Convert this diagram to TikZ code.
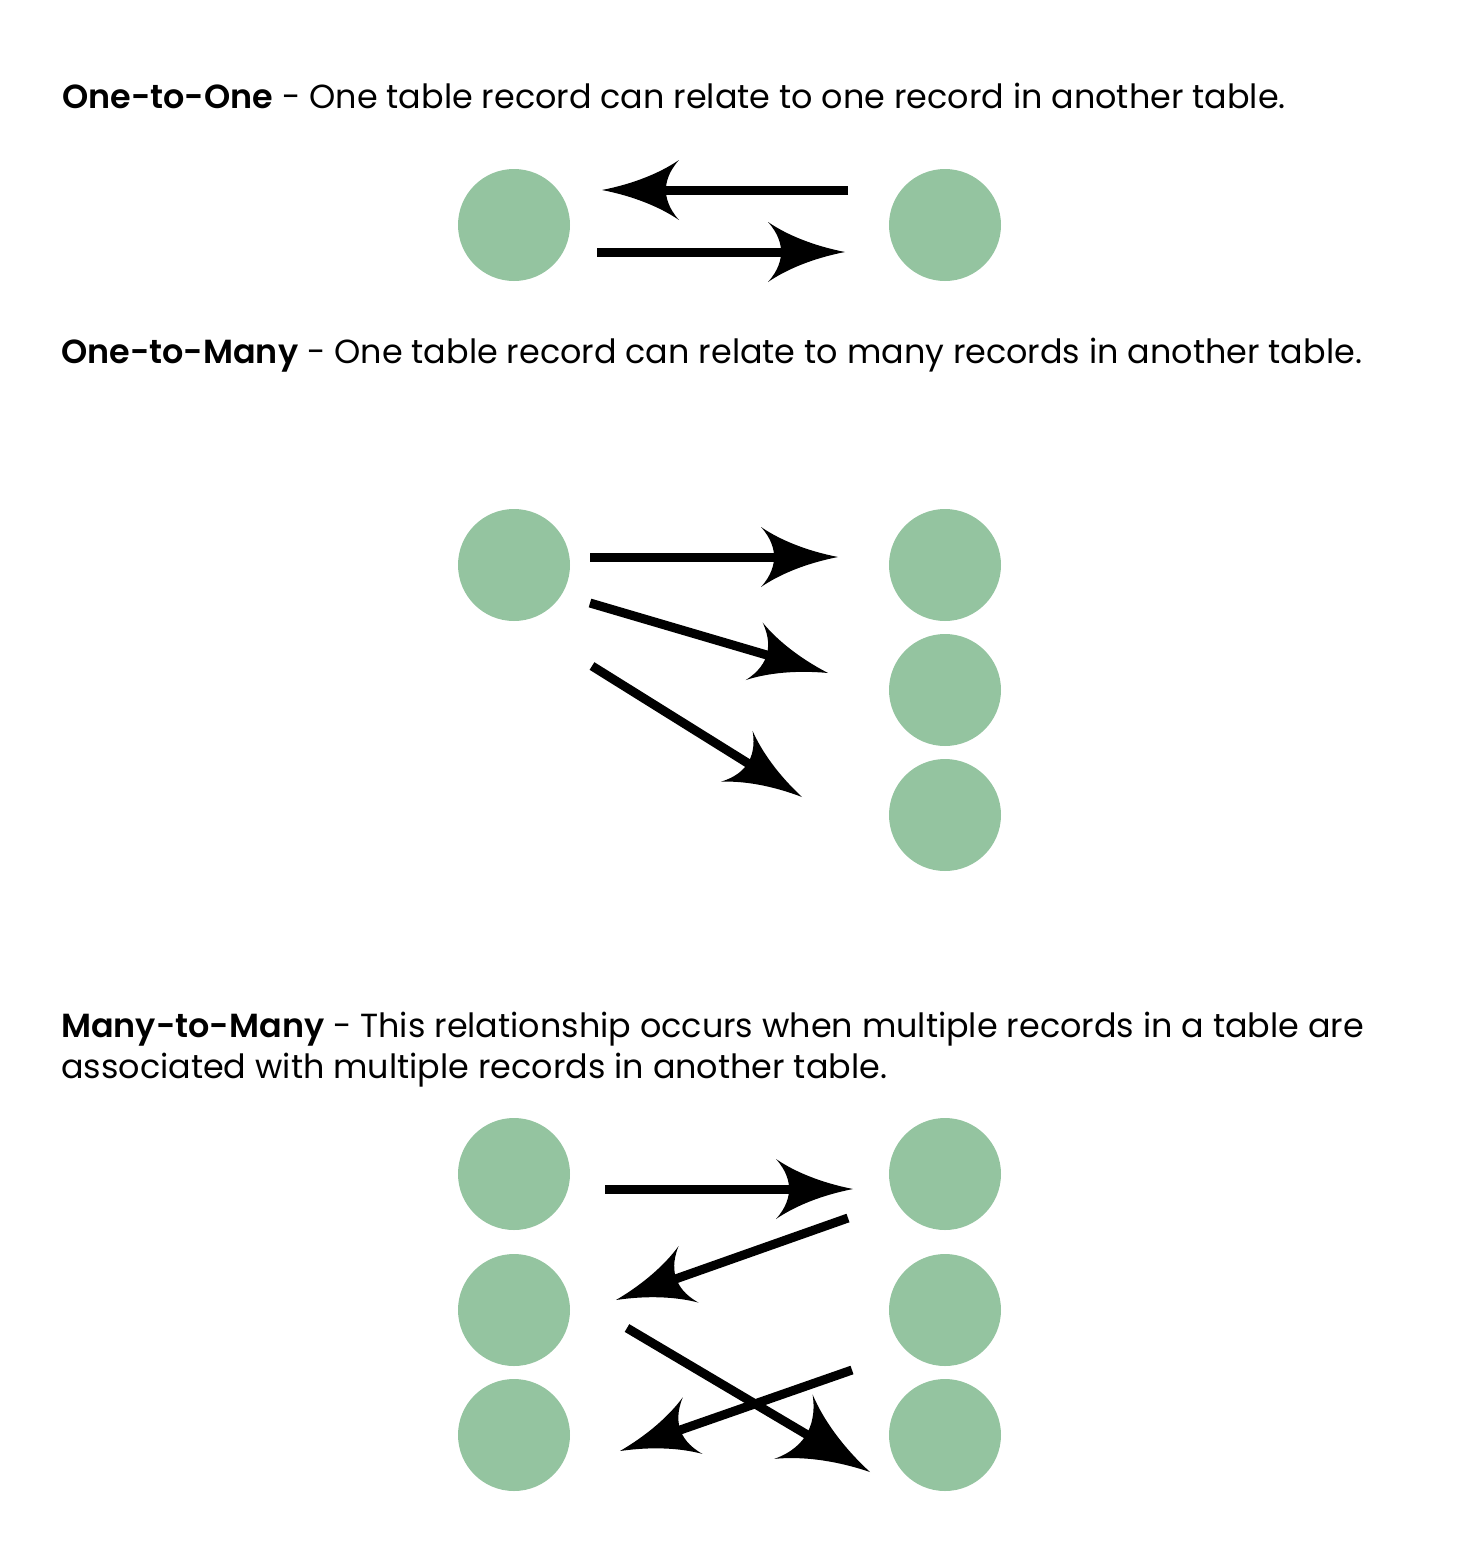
\documentclass[tikz,border=0pt]{standalone}
\usepackage{fontspec}
\setmainfont{Poppins}
\newfontfamily\semibold{Poppins SemiBold}
\usepackage{tikz}
\usetikzlibrary{arrows.meta, calc}
\definecolor{recgreen}{HTML}{94C4A0}

% curved barbed tip
\pgfdeclarearrow{
  name = Curved,
  parameters = {\the\pgfarrowlength,\the\pgfarrowwidth},
  setup code = {
    \pgfarrowssettipend{0pt}
    \pgfarrowssetbackend{-\pgfarrowlength}
    \pgfarrowssetlineend{-.6\pgfarrowlength}
    \pgfarrowssavethe\pgfarrowlength
    \pgfarrowssavethe\pgfarrowwidth
  },
  drawing code = {
    \pgfpathmoveto{\pgfpointorigin}
    \pgfpathcurveto{\pgfpoint{-.4\pgfarrowlength}{.1\pgfarrowwidth}}
      {\pgfpoint{-.75\pgfarrowlength}{.28\pgfarrowwidth}}
      {\pgfpoint{-\pgfarrowlength}{.5\pgfarrowwidth}}
    \pgfpathcurveto{\pgfpoint{-.86\pgfarrowlength}{.3\pgfarrowwidth}}
      {\pgfpoint{-.83\pgfarrowlength}{.12\pgfarrowwidth}}
      {\pgfpoint{-.83\pgfarrowlength}{0pt}}
    \pgfpathcurveto{\pgfpoint{-.83\pgfarrowlength}{-.12\pgfarrowwidth}}
      {\pgfpoint{-.86\pgfarrowlength}{-.3\pgfarrowwidth}}
      {\pgfpoint{-\pgfarrowlength}{-.5\pgfarrowwidth}}
    \pgfpathcurveto{\pgfpoint{-.75\pgfarrowlength}{-.28\pgfarrowwidth}}
      {\pgfpoint{-.4\pgfarrowlength}{-.1\pgfarrowwidth}}
      {\pgfpointorigin}
    \pgfpathclose
    \pgfusepathqfill
  },
  defaults = {length=76pt, width=60pt}
}

\begin{document}
\begin{tikzpicture}[
    x=1pt, y=-1pt,
    rec/.style={circle, fill=recgreen, minimum size=112pt, inner sep=0pt},
    arrow/.style={-{Curved[length=77pt, width=60pt]}, line width=9pt},
    bigarrow/.style={-{Curved[length=89pt, width=75pt]}, line width=9pt},
    caption/.style={anchor=base west, inner sep=0pt, align=left,
        font=\fontsize{33.4}{41}\selectfont},
]
\useasboundingbox[fill=white] (0,0) rectangle (1459,1545);

% ── One-to-One ─────────────────────────────────────────────────────────────
\node[caption] (oneone) at (62,108)
    {{\semibold One-to-One} - One table record can relate to one record in another table.};
\node[rec] (oa) at (514,225) {};
\node[rec] (ob) at (945,225) {};
\draw[arrow] ([shift={(-97,-35)}]ob.center) -- ([shift={(88,-35)}]oa.center);
\draw[arrow] ([shift={(83,27)}]oa.center) -- ([shift={(-100,27)}]ob.center);

% ── One-to-Many ────────────────────────────────────────────────────────────
\node[caption] (onemany) at (61,363)
    {{\semibold One-to-Many} - One table record can relate to many records in another table.};
\node[rec] (ma) at (514,565) {};
\node[rec] (mb1) at (945,565) {};
\node[rec] (mb2) at (945,690) {};
\node[rec] (mb3) at (945,815) {};
\draw[arrow] ([shift={(76,-8)}]ma.center) -- ([shift={(-107,-8)}]mb1.center);
\draw[arrow] ([shift={(76,38)}]ma.center) -- ([shift={(-117,-17)}]mb2.center);
\draw[arrow] ([shift={(78,101)}]ma.center) -- ([shift={(-143,-18)}]mb3.center);

% ── Many-to-Many ───────────────────────────────────────────────────────────
\node[caption] (manymany) at (61,1078)
    {{\semibold Many-to-Many} - This relationship occurs when multiple records in a table are\\
     associated with multiple records in another table.};
\node[rec] (na1) at (514,1174) {};
\node[rec] (na2) at (514,1310) {};
\node[rec] (na3) at (514,1435) {};
\node[rec] (nb1) at (945,1174) {};
\node[rec] (nb2) at (945,1310) {};
\node[rec] (nb3) at (945,1435) {};
\draw[arrow] ([shift={(91,15)}]na1.center) -- ([shift={(-92,15)}]nb1.center);
\draw[arrow] ([shift={(-97,44)}]nb1.center) -- ([shift={(102,-10)}]na2.center);
\draw[bigarrow] ([shift={(113,18)}]na2.center) -- ([shift={(-75,37)}]nb3.center);
\draw[arrow] ([shift={(-93,-65)}]nb3.center) -- ([shift={(106,16)}]na3.center);

\end{tikzpicture}
\end{document}
